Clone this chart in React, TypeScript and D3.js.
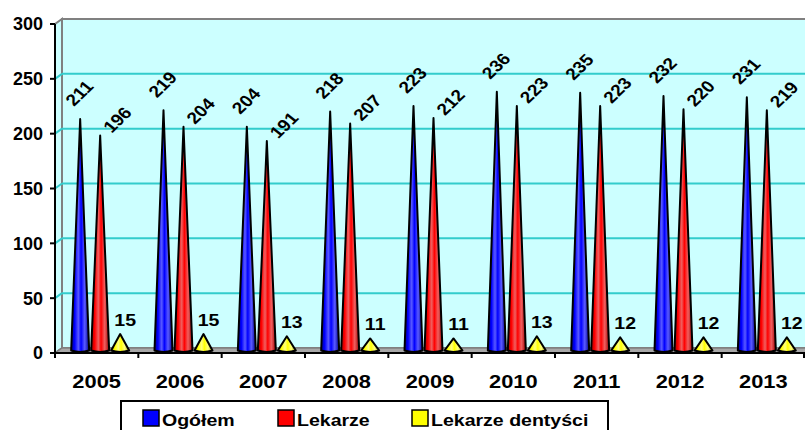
import React from "react";
import * as d3 from "d3";

const years = ["2005", "2006", "2007", "2008", "2009", "2010", "2011", "2012", "2013"];
const ogolem = [211, 219, 204, 218, 223, 236, 235, 232, 231];
const lekarze = [196, 204, 191, 207, 212, 223, 223, 220, 219];
const dentysci = [15, 15, 13, 11, 11, 13, 12, 12, 12];
const yTicks = [0, 50, 100, 150, 200, 250, 300];
const seriesNames = ["Ogółem", "Lekarze", "Lekarze dentyści"];

const W = 805;
const H = 430;
const X0 = 55;
const X1 = 805;
const Y0 = 353;
const YTOP = 24;
const DX = 7; // depth offset x
const DY = -5; // depth offset y
const FONT = "'Liberation Sans', Arial, sans-serif";

const seriesDefs = [
  { key: "blue", values: ogolem, base: "#0000ff", dark: "#000090", light: "#5a5aff" },
  { key: "red", values: lekarze, base: "#ff0000", dark: "#a00000", light: "#f06060" },
  { key: "yellow", values: dentysci, base: "#ffff00", dark: "#a0a000", light: "#ffff80" },
];

function T(props: { x: number; y: number; anchor?: string; size: number; sx?: number; rot?: number; dy?: string; children: any }) {
  const { x, y, anchor = "start", size, sx = 1.15, rot = 0, dy, children } = props;
  return (
    <g transform={`translate(${x},${y}) scale(${sx},1) rotate(${rot})`}>
      <text x={0} y={0} dy={dy} textAnchor={anchor} fontSize={size} fontWeight="bold" fontFamily={FONT}>
        {children}
      </text>
    </g>
  );
}

export default function App() {
  const x = d3.scaleBand<string>().domain(years).range([X0, X1]).padding(0);
  const y = d3.scaleLinear().domain([0, 300]).range([Y0, YTOP]);
  const bw = x.bandwidth();
  const coneHalf = 9;
  const coneStep = 20;
  const midDX = DX / 2;
  const midDY = DY / 2;

  const conePath = (cx: number, v: number) => {
    const base = y(0) + midDY;
    const top = y(v) + midDY;
    const p = d3.path();
    p.moveTo(cx - coneHalf, base);
    p.lineTo(cx, top);
    p.lineTo(cx + coneHalf, base);
    p.quadraticCurveTo(cx, base + 3, cx - coneHalf, base);
    p.closePath();
    return p.toString();
  };

  const gridVals = yTicks.filter((t) => t > 0 && t < 300);

  return (
    <div style={{ position: "absolute", left: 0, top: 0 }}>
      <svg width={W} height={H} style={{ display: "block" }} fontFamily={FONT}>
        <defs>
          {seriesDefs.map((s) => (
            <linearGradient id={`g-${s.key}`} key={s.key} x1="0" x2="1" y1="0" y2="0">
              <stop offset="0%" stopColor={s.dark} />
              <stop offset="20%" stopColor={s.base} />
              <stop offset="40%" stopColor={s.light} />
              <stop offset="55%" stopColor={s.base} />
              <stop offset="75%" stopColor={s.light} />
              <stop offset="100%" stopColor={s.dark} />
            </linearGradient>
          ))}
        </defs>
        <rect x={0} y={0} width={W} height={H} fill="#ffffff" />
        {/* back wall */}
        <rect x={X0 + DX} y={y(300) + DY} width={X1 - X0} height={y(0) - y(300)} fill="#ccffff" stroke="#808080" strokeWidth={2} />
        {/* left wall */}
        <path
          d={`M${X0},${y(0)} L${X0},${y(300)} L${X0 + DX},${y(300) + DY} L${X0 + DX},${y(0) + DY} Z`}
          fill="#ccffff"
          stroke="#808080"
          strokeWidth={2}
        />
        {/* floor */}
        <path
          d={`M${X0},${y(0)} L${X0 + DX},${y(0) + DY} L${X1 + DX},${y(0) + DY} L${X1},${y(0)} Z`}
          fill="#a8a8a8"
          stroke="#808080"
          strokeWidth={1.5}
        />
        {/* gridlines */}
        {gridVals.map((t) => (
          <g key={t}>
            <line x1={X0} x2={X0 + DX} y1={y(t)} y2={y(t) + DY} stroke="#33cccc" strokeWidth={2} />
            <line x1={X0 + DX} x2={X1 + DX} y1={y(t) + DY} y2={y(t) + DY} stroke="#33cccc" strokeWidth={2} />
          </g>
        ))}
        {/* cones */}
        {years.map((yr, i) => {
          const c = (x(yr) as number) + bw / 2 + midDX;
          return (
            <g key={yr}>
              {seriesDefs.map((s, k) => (
                <path
                  key={s.key}
                  d={conePath(c + (k - 1) * coneStep, s.values[i])}
                  fill={`url(#g-${s.key})`}
                  stroke="#000"
                  strokeWidth={2}
                  strokeLinejoin="round"
                />
              ))}
            </g>
          );
        })}
        {/* axes */}
        <line x1={X0} x2={X0} y1={y(300)} y2={y(0)} stroke="#000" strokeWidth={2} />
        <line x1={X0} x2={X1} y1={y(0)} y2={y(0)} stroke="#000" strokeWidth={2} />
        {yTicks.map((t) => (
          <g key={t}>
            <line x1={X0 - 5} x2={X0} y1={y(t)} y2={y(t)} stroke="#000" strokeWidth={2} />
            <T x={X0 - 12} y={y(t)} dy="0.36em" anchor="end" size={18} sx={1.0}>
              {t}
            </T>
          </g>
        ))}
        {years.map((yr) => (
          <line key={yr} x1={x(yr) as number} x2={x(yr) as number} y1={y(0)} y2={y(0) + 5} stroke="#000" strokeWidth={2} />
        ))}
        <line x1={X1 - 1} x2={X1 - 1} y1={y(0)} y2={y(0) + 5} stroke="#000" strokeWidth={2} />
        {years.map((yr) => (
          <T key={yr} x={(x(yr) as number) + bw / 2} y={388} anchor="middle" size={19}>
            {yr}
          </T>
        ))}
        {/* data labels */}
        {years.map((yr, i) => {
          const c = (x(yr) as number) + bw / 2 + midDX;
          const bx = c - coneStep;
          const by = y(ogolem[i]) + midDY;
          const rx = c;
          const ry = y(lekarze[i]) + midDY;
          const yx = c + coneStep;
          const yy = y(dentysci[i]) + midDY;
          return (
            <g key={yr}>
              <T x={bx - 1} y={by - 26} dy="0.36em" anchor="middle" size={16.5} rot={-48}>
                {ogolem[i]}
              </T>
              <T x={rx + 17} y={ry - 16} dy="0.36em" anchor="middle" size={16.5} rot={-48}>
                {lekarze[i]}
              </T>
              <T x={yx + 5} y={yy - 8} anchor="middle" size={17}>
                {dentysci[i]}
              </T>
            </g>
          );
        })}
        {/* legend */}
        <rect x={121} y={401} width={487} height={40} fill="#fff" stroke="#000" strokeWidth={2} />
        {seriesNames.map((n, k) => {
          const lx = [143, 278, 412][k];
          return (
            <g key={n}>
              <rect x={lx} y={410} width={16} height={16} fill={seriesDefs[k].base} stroke="#000" strokeWidth={1.5} />
              <T x={lx + 19} y={426} size={17}>
                {n}
              </T>
            </g>
          );
        })}
      </svg>
    </div>
  );
}
